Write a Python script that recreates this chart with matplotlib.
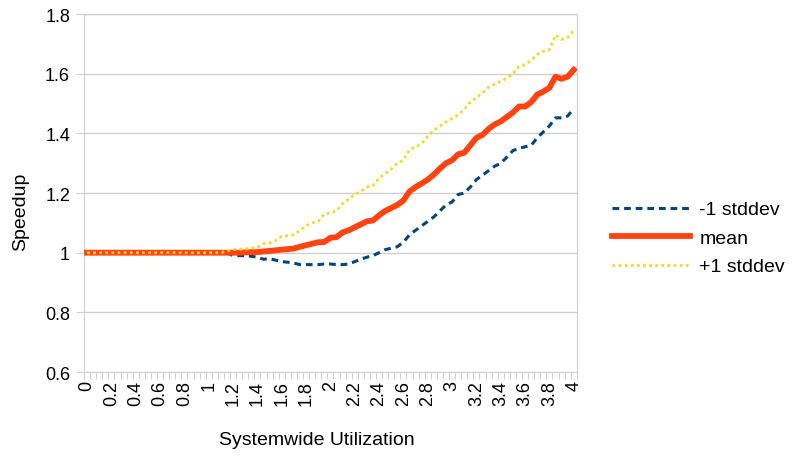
import numpy as np
import matplotlib.pyplot as plt
from matplotlib.ticker import FixedLocator

plt.rcParams['font.family'] = ['Liberation Sans', 'DejaVu Sans']

# utilization categories 0 .. 4 in steps of 0.05
util = np.round(np.arange(81) * 0.05, 2)
x_labels = ['0', '0.2', '0.4', '0.6', '0.8', '1', '1.2', '1.4', '1.6', '1.8', '2',
            '2.2', '2.4', '2.6', '2.8', '3', '3.2', '3.4', '3.6', '3.8', '4']

# values; flat at 1.0 up to 1.1
flat = [1.0] * 23
mean = flat + [
    1.0, 1.0, 1.0, 1.001, 1.002, 1.002, 1.004, 1.006, 1.008, 1.01,
    1.012, 1.014, 1.02, 1.025, 1.03, 1.035, 1.036, 1.05, 1.052, 1.068,
    1.075, 1.085, 1.095, 1.105, 1.108, 1.125, 1.14, 1.15, 1.16, 1.175,
    1.205, 1.22, 1.232, 1.245, 1.262, 1.282, 1.3, 1.31, 1.33, 1.335,
    1.36, 1.385, 1.395, 1.415, 1.43, 1.44, 1.455, 1.47, 1.49, 1.49,
    1.505, 1.53, 1.54, 1.553, 1.59, 1.583, 1.59, 1.613]
plus_sd = flat + [
    1.005, 1.01, 1.012, 1.012, 1.015, 1.018, 1.03, 1.032, 1.04, 1.055,
    1.057, 1.06, 1.075, 1.09, 1.1, 1.105, 1.13, 1.133, 1.14, 1.165,
    1.18, 1.195, 1.205, 1.22, 1.225, 1.25, 1.265, 1.28, 1.3, 1.31,
    1.345, 1.355, 1.365, 1.39, 1.41, 1.425, 1.438, 1.45, 1.462, 1.48,
    1.505, 1.52, 1.535, 1.555, 1.565, 1.575, 1.585, 1.6, 1.625, 1.63,
    1.645, 1.665, 1.675, 1.68, 1.73, 1.715, 1.722, 1.745]
minus_sd = flat + [
    1.0, 0.99, 0.99, 0.99, 0.988, 0.985, 0.978, 0.98, 0.975, 0.97,
    0.968, 0.965, 0.96, 0.96, 0.96, 0.96, 0.962, 0.962, 0.96, 0.96,
    0.962, 0.97, 0.978, 0.985, 0.99, 1.0, 1.01, 1.015, 1.02, 1.035,
    1.06, 1.075, 1.09, 1.105, 1.12, 1.14, 1.16, 1.17, 1.195, 1.2,
    1.22, 1.245, 1.26, 1.275, 1.29, 1.3, 1.32, 1.342, 1.35, 1.355,
    1.36, 1.385, 1.405, 1.425, 1.452, 1.452, 1.458, 1.484]

fig = plt.figure(figsize=(8, 4.56), dpi=100)
ax = fig.add_axes([0.105, 0.182, 0.616, 0.785])

ax.plot(util, minus_sd, color='#004586', lw=2.2, ls=(0, (2.2, 1.6)), label='-1 stddev', zorder=3)
ax.plot(util, mean, color='#ff420e', lw=4.2, label='mean', zorder=4)
ax.plot(util, plus_sd, color='#ffd320', lw=2.0, ls=(0, (1, 1.2)), label='+1 stddev', zorder=5)

ax.set_xlim(-0.025, 4.025)
ax.set_ylim(0.6, 1.8)
ax.set_yticks(np.arange(0.6, 1.81, 0.2))
ax.set_yticklabels(['0.6', '0.8', '1', '1.2', '1.4', '1.6', '1.8'], fontsize=13)
ax.set_xticks(np.arange(0, 4.01, 0.2))
ax.set_xticklabels(x_labels, rotation=90, fontsize=13)
ax.xaxis.set_minor_locator(FixedLocator(np.arange(81 + 1) * 0.05 - 0.025))
ax.tick_params(axis='x', which='major', length=0, pad=6)
ax.tick_params(axis='x', which='minor', length=5, color='#c8c8c8')
ax.tick_params(axis='y', length=6, color='#d0d0d0', pad=4)

ax.grid(axis='y', color='#d0d0d0', lw=1)
ax.set_axisbelow(True)
for s in ax.spines.values():
    s.set_color('#d0d0d0')

ax.set_xlabel('Systemwide Utilization', fontsize=14)
ax.set_ylabel('Speedup', fontsize=14)
ax.xaxis.set_label_coords(0.472, -0.165)
ax.yaxis.set_label_coords(-0.112, 0.45)

ax.legend(loc='center left', bbox_to_anchor=(1.071, 0.374), frameon=False,
          fontsize=14, handlelength=4.0, handletextpad=0.5, labelspacing=0.56,
          borderpad=0, borderaxespad=0)

fig.savefig('out.png', dpi=100)
